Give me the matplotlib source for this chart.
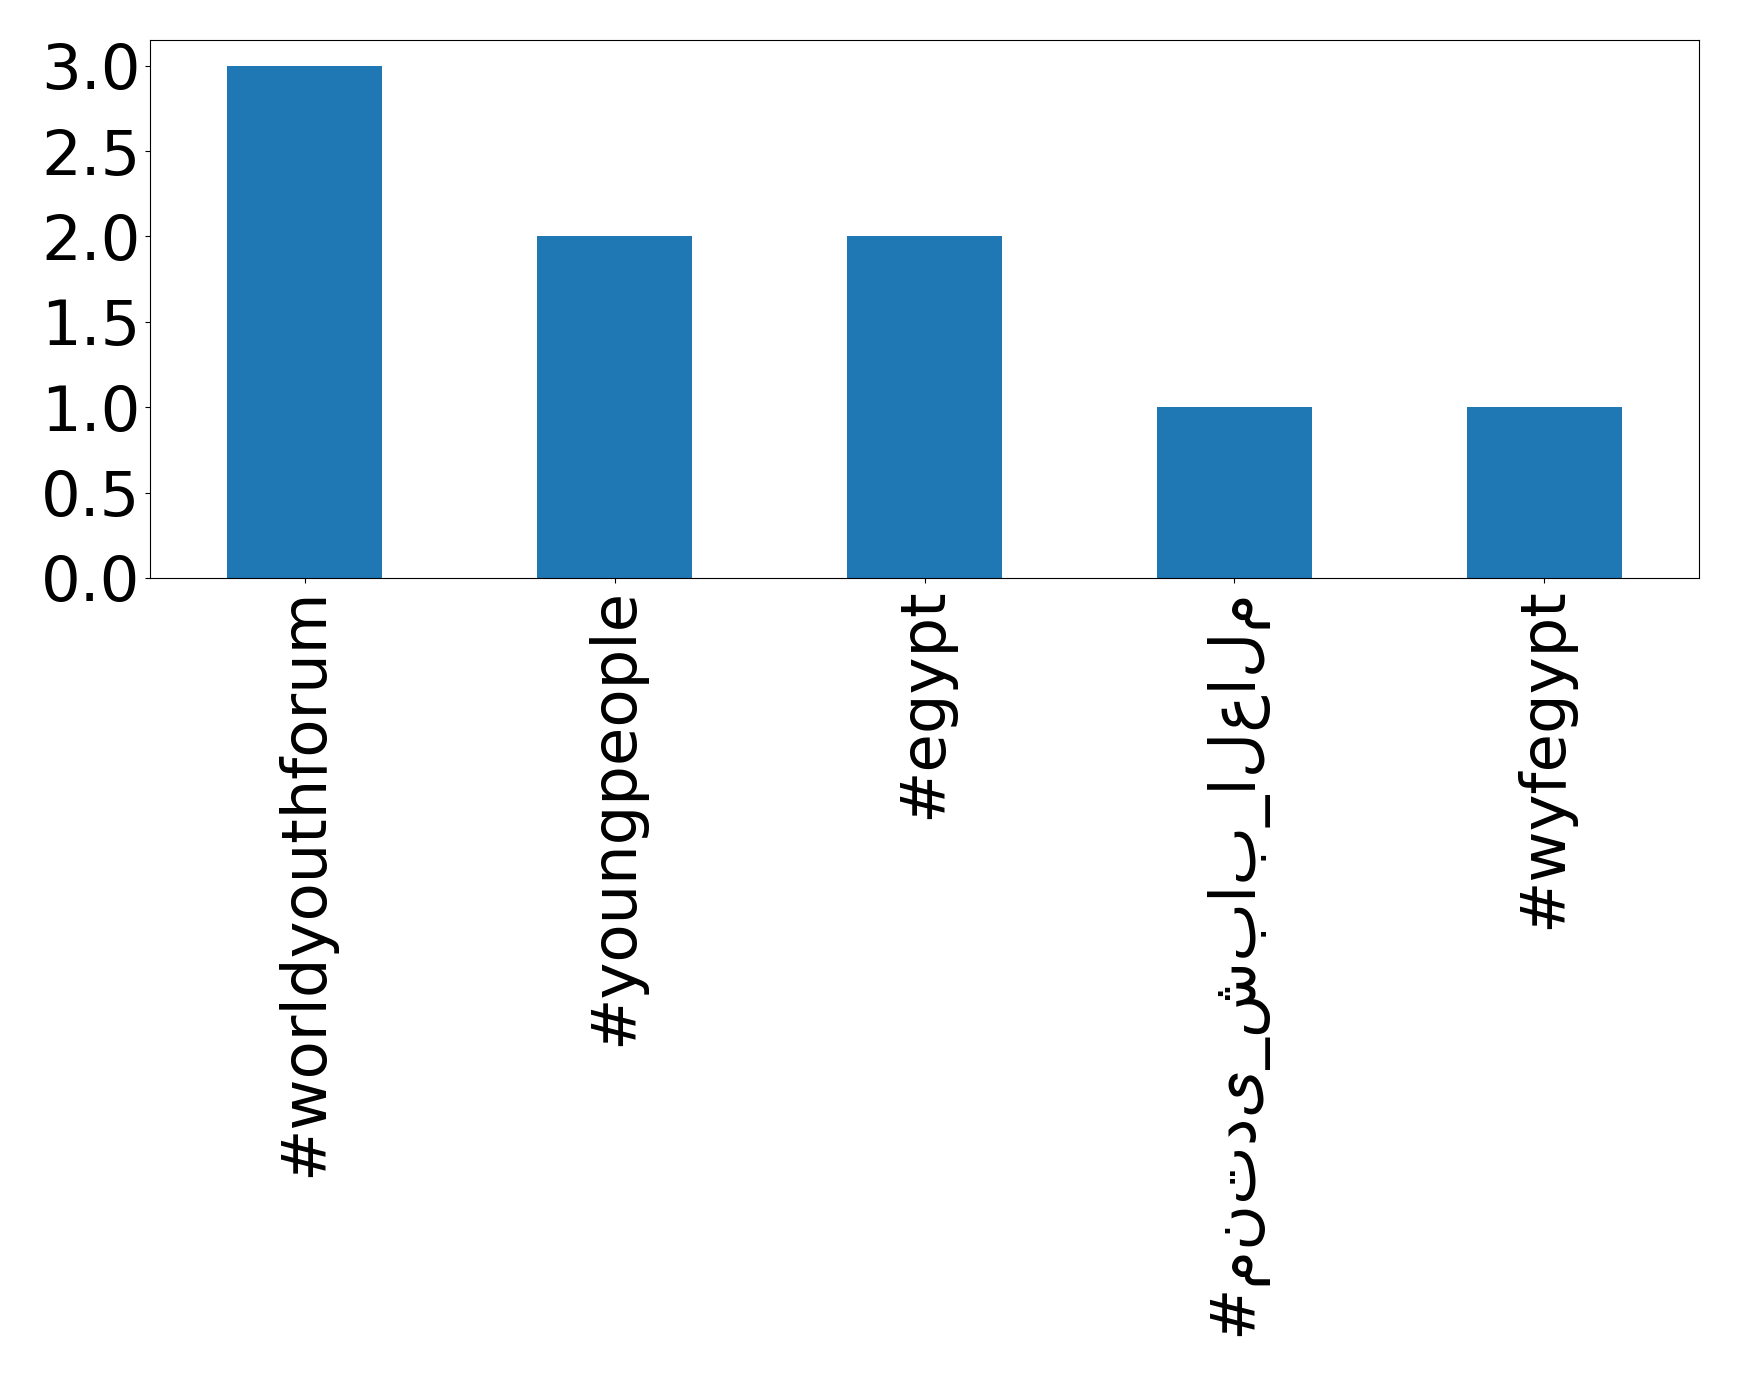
import matplotlib
matplotlib.use("Agg")
import matplotlib.pyplot as plt

hashtags = ["#worldyouthforum", "#youngpeople", "#egypt", "#منتدى_شباب_العالم", "#wyfegypt"]
counts = [3, 2, 2, 1, 1]
yticks = [0.0, 0.5, 1.0, 1.5, 2.0, 2.5, 3.0]

fig = plt.figure(figsize=(17.39, 13.76), dpi=100)
ax = fig.add_axes([150 / 1739, 1 - 578 / 1376, 1549 / 1739, 538 / 1376])

x = range(len(hashtags))
ax.bar(x, counts, width=0.5, color="#1f77b4")
ax.set_xlim(-0.5, len(hashtags) - 0.5)
ax.set_ylim(0, 3.15)
ax.set_xticks(list(x))
ax.set_xticklabels(hashtags, rotation=90, fontsize=45)
ax.set_yticks(yticks)
ax.set_yticklabels([f"{v:.1f}" for v in yticks], fontsize=45)

fig.savefig("out.png", dpi=100)
